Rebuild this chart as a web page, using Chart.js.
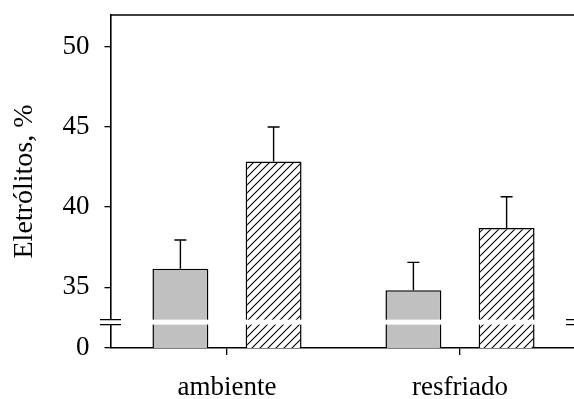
<!DOCTYPE html>
<html>
<head>
<meta charset="utf-8">
<script src="https://cdn.jsdelivr.net/npm/chart.js@4.4.0/dist/chart.umd.min.js"></script>
<style>
  html, body { margin: 0; padding: 0; background: #fff; overflow: hidden; }
  #wrap { width: 574px; height: 399px; overflow: hidden; }
  canvas { display: block; }
</style>
</head>
<body>
<div id="wrap"><canvas id="c" width="578" height="399"></canvas></div>
<script>
// Electrolyte leakage (%) by storage condition
const categories = ['ambiente', 'resfriado'];
const grayValues = [36.15, 34.8];
const grayErrors = [1.8, 1.75];
const hatchValues = [42.85, 38.7];
const hatchErrors = [2.15, 1.95];
const yTickValues = [35, 40, 45, 50];
const zeroLabel = '0';

// Broken axis: the bottom of the axis stands for 0, the upper segment is linear
const axisBottom = 31.2;
const axisTop = 52;
const breakBand = [32.66, 32.97];

const serif = '"Liberation Serif", "Times New Roman", serif';

function hatchPattern() {
  const s = 8;
  const c = document.createElement('canvas');
  c.width = s; c.height = s;
  const g = c.getContext('2d');
  g.fillStyle = '#fff';
  g.fillRect(0, 0, s, s);
  g.strokeStyle = '#000';
  g.lineWidth = 1.1;
  g.beginPath();
  g.moveTo(0, s); g.lineTo(s, 0);
  g.moveTo(-1, 1); g.lineTo(1, -1);
  g.moveTo(s - 1, s + 1); g.lineTo(s + 1, s - 1);
  g.stroke();
  return g.createPattern(c, 'repeat');
}

const frameAndErrors = {
  id: 'frameAndErrors',
  afterDatasetsDraw(chart) {
    const { ctx, chartArea: a, scales: { y } } = chart;
    ctx.save();
    // error bars (upper only)
    ctx.strokeStyle = '#000';
    ctx.lineWidth = 1.4;
    chart.data.datasets.forEach((ds, di) => {
      const meta = chart.getDatasetMeta(di);
      meta.data.forEach((bar, i) => {
        const yTop = y.getPixelForValue(ds.data[i] + ds.errors[i]);
        ctx.beginPath();
        ctx.moveTo(bar.x, bar.y);
        ctx.lineTo(bar.x, yTop);
        ctx.moveTo(bar.x - 6, yTop);
        ctx.lineTo(bar.x + 6, yTop);
        ctx.stroke();
      });
    });
    // top and right frame lines
    ctx.lineWidth = 1.5;
    ctx.beginPath();
    ctx.moveTo(a.left, a.top);
    ctx.lineTo(a.right, a.top);
    ctx.lineTo(a.right, a.bottom);
    ctx.stroke();
    ctx.restore();
  },
  afterDraw(chart) {
    const { ctx, chartArea: a, scales: { y } } = chart;
    const yHi = y.getPixelForValue(breakBand[1]);
    const yLo = y.getPixelForValue(breakBand[0]);
    ctx.save();
    ctx.fillStyle = '#fff';
    ctx.fillRect(a.left - 3, yHi, a.right - a.left + 6, yLo - yHi);
    ctx.strokeStyle = '#000';
    ctx.lineWidth = 1.4;
    [a.left, a.right].forEach(x => {
      ctx.beginPath();
      ctx.moveTo(x - 10.5, yHi); ctx.lineTo(x + 10.5, yHi);
      ctx.moveTo(x - 10.5, yLo); ctx.lineTo(x + 10.5, yLo);
      ctx.stroke();
    });
    ctx.restore();
  }
};

new Chart(document.getElementById('c'), {
  type: 'bar',
  data: {
    labels: categories,
    datasets: [
      {
        data: grayValues,
        errors: grayErrors,
        backgroundColor: '#c0c0c0',
        borderColor: '#000',
        borderWidth: 1.5
      },
      {
        data: hatchValues,
        errors: hatchErrors,
        backgroundColor: hatchPattern(),
        borderColor: '#000',
        borderWidth: 1.5
      }
    ]
  },
  options: {
    responsive: false,
    animation: false,
    devicePixelRatio: 1,
    categoryPercentage: 0.8,
    barPercentage: 0.6,
    layout: { padding: { left: 0, top: 15, right: 1.5, bottom: 0 } },
    plugins: { legend: { display: false }, tooltip: { enabled: false } },
    scales: {
      x: {
        grid: { offset: false, drawOnChartArea: false, tickLength: 7, color: '#000', lineWidth: 1.3 },
        border: { color: '#000', width: 1.6 },
        ticks: { font: { family: serif, size: 27 }, color: '#000', padding: 17 },
        afterFit(s) { s.height = 51; s.paddingLeft = 0; s.paddingRight = 0; }
      },
      y: {
        type: 'linear',
        min: axisBottom,
        max: axisTop,
        afterBuildTicks(s) {
          s.ticks = [axisBottom, ...yTickValues].map(v => ({ value: v }));
        },
        ticks: {
          font: { family: serif, size: 27 },
          color: '#000',
          padding: 15,
          callback: v => (v === axisBottom ? zeroLabel : String(v))
        },
        grid: { drawOnChartArea: false, tickLength: 6, color: '#000', lineWidth: 1.3 },
        border: { color: '#000', width: 1.6 },
        title: {
          display: true,
          text: 'Eletrólitos, %',
          font: { family: serif, size: 28 },
          color: '#000',
          padding: { top: 8, bottom: 0 }
        },
        afterFit(s) { s.width = 110.5; s.paddingTop = 0; s.paddingBottom = 0; }
      }
    }
  },
  plugins: [frameAndErrors]
});
</script>
</body>
</html>
